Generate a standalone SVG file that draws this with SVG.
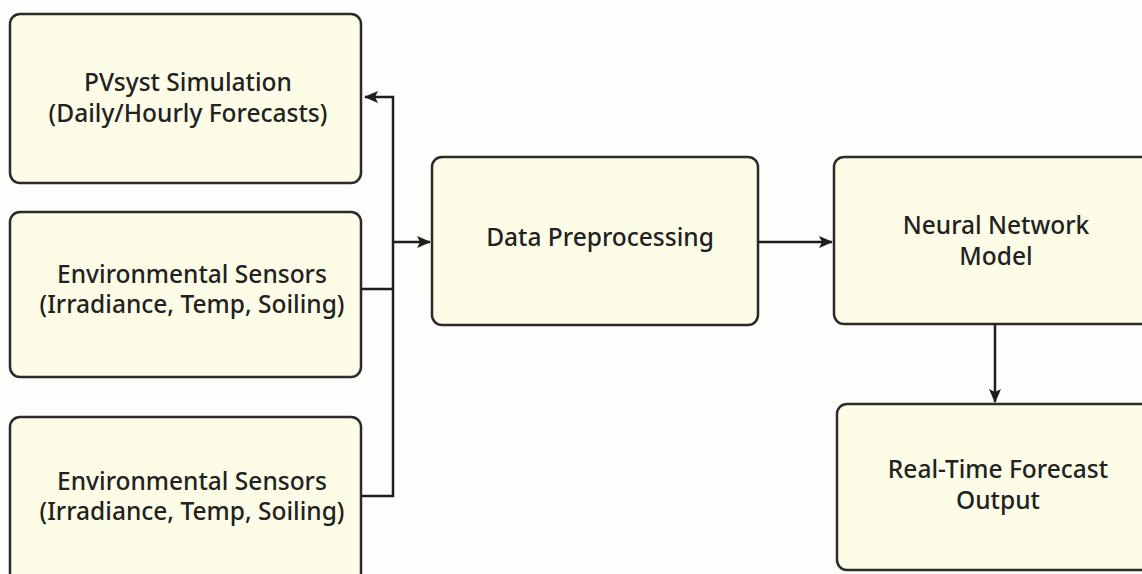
<svg xmlns="http://www.w3.org/2000/svg" width="1142" height="574" viewBox="0 0 1142 574">
<defs>
<marker id="arr" markerWidth="14" markerHeight="12" refX="13" refY="6" orient="auto" markerUnits="userSpaceOnUse">
<path d="M0,0 L14,6 L0,12 L3,6 Z" fill="#1e1e1e"/>
</marker>
</defs>
<style>
.box{fill:#fdfce6;stroke:#2b2b2b;stroke-width:2.5}
.lbl{font-family:"Noto Sans","Open Sans","Liberation Sans",sans-serif;font-size:24.5px;font-weight:500;fill:#222;text-anchor:middle}
.con{fill:none;stroke:#1e1e1e;stroke-width:2.5}
</style>
<rect width="1142" height="574" fill="#fdfdfc"/>
<g id="pvsyst">
<rect class="box" x="10" y="14" width="351" height="169" rx="10"/>
<text class="lbl" x="188" y="91">PVsyst Simulation</text>
<text class="lbl" x="188" y="122">(Daily/Hourly Forecasts)</text>
</g>
<g id="sensors1">
<rect class="box" x="10" y="212" width="351" height="165" rx="10"/>
<text class="lbl" x="192" y="283">Environmental Sensors</text>
<text class="lbl" x="192" y="313">(Irradiance, Temp, Soiling)</text>
</g>
<g id="sensors2">
<rect class="box" x="10" y="417" width="351" height="170" rx="10"/>
<text class="lbl" x="192" y="490">Environmental Sensors</text>
<text class="lbl" x="192" y="520">(Irradiance, Temp, Soiling)</text>
</g>
<g id="preprocessing">
<rect class="box" x="432" y="157" width="326" height="168" rx="10"/>
<text class="lbl" x="600" y="246">Data Preprocessing</text>
</g>
<g id="neural">
<rect class="box" x="834" y="157" width="320" height="167" rx="10"/>
<text class="lbl" x="996" y="234">Neural Network</text>
<text class="lbl" x="996" y="265">Model</text>
</g>
<g id="output">
<rect class="box" x="837" y="404" width="320" height="166" rx="10"/>
<text class="lbl" x="998" y="478">Real-Time Forecast</text>
<text class="lbl" x="998" y="509">Output</text>
</g>
<g id="connectors">
<path class="con" d="M361,289 H393 M361,496 H393 V97 H365" marker-end="url(#arr)"/>
<path class="con" d="M393,242 H430" marker-end="url(#arr)"/>
<path class="con" d="M758,242 H832" marker-end="url(#arr)"/>
<path class="con" d="M995,324 V402" marker-end="url(#arr)"/>
</g>
</svg>
